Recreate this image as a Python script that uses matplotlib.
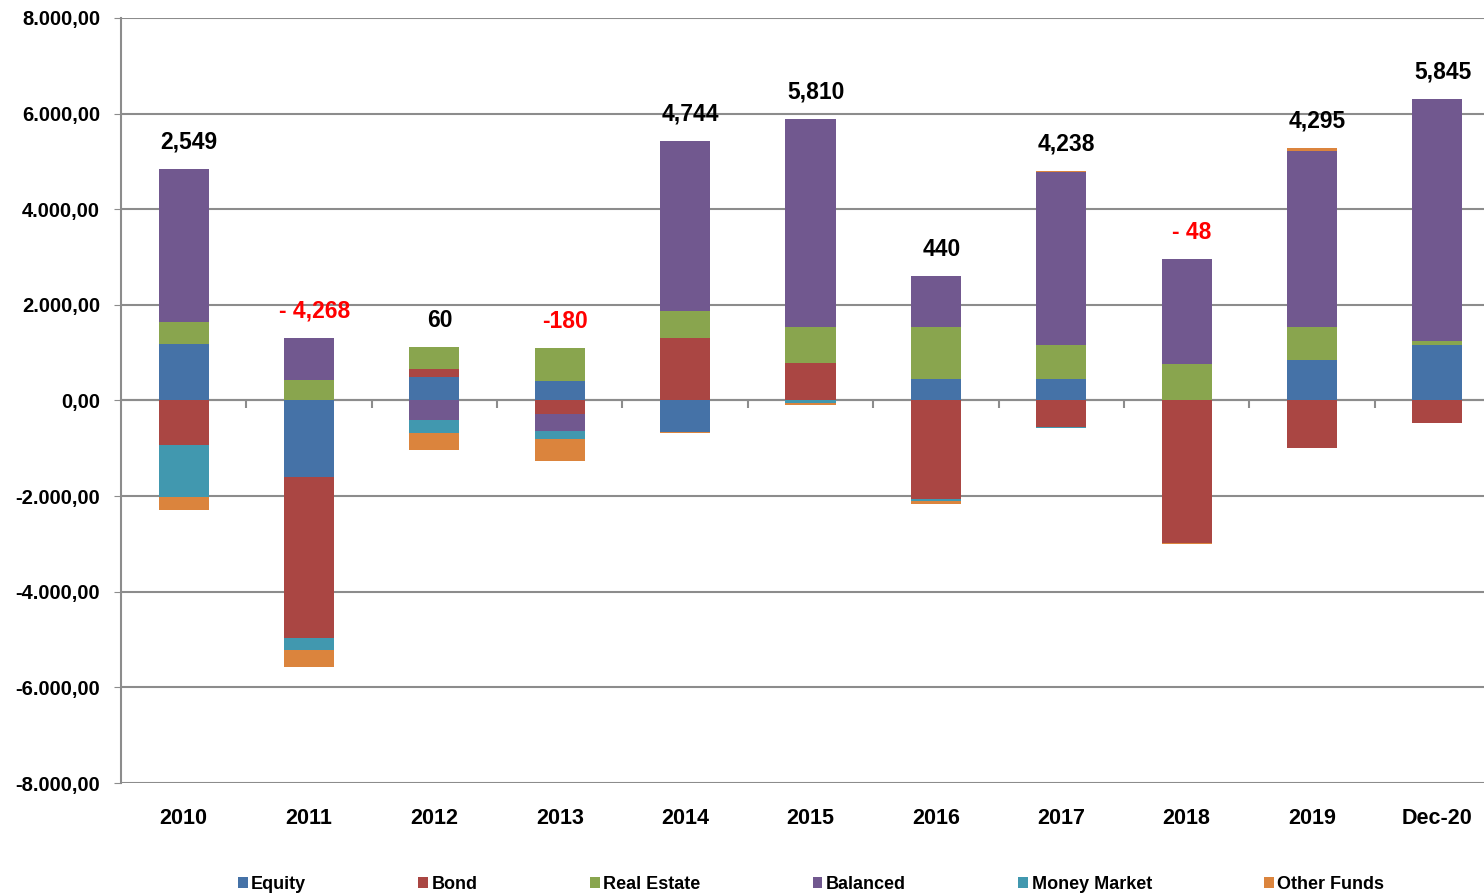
import matplotlib.pyplot as plt
import numpy as np

years = ['2010', '2011', '2012', '2013', '2014', '2015', '2016', '2017', '2018', '2019', 'Dec-20']
series = ['Equity', 'Bond', 'Real Estate', 'Balanced', 'Money Market', 'Other Funds']
colors = ['#4572A7', '#AA4643', '#89A54E', '#71588F', '#4198AF', '#DB843D']

equity = [1185, -1604, 495, 418, -660, 0, 460, 446, 0, 857, 1171]
bond = [-941, -3370, 167, -279, 1299, 792, -2070, -564, -2990, -990, -467]
real_estate = [454, 432, 453, 676, 569, 736, 1080, 718, 753, 690, 70]
balanced = [3200, 879, -418, -356, 3560, 4370, 1059, 3617, 2209, 3666, 5073]
money_market = [-1081, -251, -258, -167, 0, -60, -35, -15, 0, 0, 0]
other_funds = [-258, -349, -363, -460, -15, -25, -55, 28, -20, 70, -10]

totals = ['2,549', '- 4,268', '60', '-180', '4,744', '5,810', '440', '4,238', '- 48', '4,295', '5,845']
total_neg = [False, True, False, True, False, False, False, False, True, False, False]

plt.rcParams['font.family'] = ['Liberation Sans', 'DejaVu Sans']
plt.rcParams['font.weight'] = 'bold'

fig = plt.figure(figsize=(14.84, 8.96), dpi=100)
ax = fig.add_axes([121/1484, 1-783/896, 1379/1484, 765/896])

x = np.arange(len(years))
data = [equity, bond, real_estate, balanced, money_market, other_funds]
pos_base = np.zeros(len(years))
neg_base = np.zeros(len(years))
for vals, name, c in zip(data, series, colors):
    v = np.array(vals, dtype=float)
    base = np.where(v >= 0, pos_base, neg_base)
    ax.bar(x, v, 0.4, bottom=base, color=c, label=name, zorder=3)
    pos_base += np.where(v >= 0, v, 0)
    neg_base += np.where(v < 0, v, 0)

for i in range(len(years)):
    ax.annotate(totals[i], (x[i], pos_base[i]), xytext=(4, 11), textcoords='offset points',
                ha='center', va='bottom', fontsize=16.5, fontweight='bold',
                color='red' if total_neg[i] else 'black')

ax.set_ylim(-8000, 8000)
ax.set_xlim(-0.5, len(years) - 0.5)
ax.set_yticks(np.arange(-8000, 8001, 2000))
ax.set_yticklabels([f'{v:,.2f}'.replace(',', 'X').replace('.', ',').replace('X', '.') for v in np.arange(-8000, 8001, 2000)],
                   fontsize=14.5, fontweight='bold')
ax.yaxis.grid(True, color='#8c8c8c', linewidth=1.5, zorder=1)
ax.tick_params(axis='y', length=5, color='#8c8c8c', pad=10)

ax.spines['top'].set_visible(False)
ax.spines['right'].set_visible(False)
ax.spines['left'].set_color('#8c8c8c')
ax.spines['left'].set_linewidth(1.5)
ax.spines['bottom'].set_position(('data', 0))
ax.spines['bottom'].set_color('#8c8c8c')
ax.spines['bottom'].set_linewidth(1.5)
ax.set_xticks(np.arange(0.5, len(years) - 0.5, 1))
ax.set_xticklabels([])
ax.tick_params(axis='x', length=6, color='#8c8c8c', width=1.5)

sec = ax.secondary_xaxis('bottom')
sec.set_xticks(x)
sec.set_xticklabels(years, fontsize=15.5, fontweight='bold')
sec.tick_params(length=0, pad=18)
sec.spines['bottom'].set_visible(False)

fig.legend(loc='center', bbox_to_anchor=(811/1484, 1-884/896), ncol=6, frameon=False,
           handlelength=0.55, handleheight=0.55, handletextpad=0.2, columnspacing=6.2,
           prop={'size': 13, 'weight': 'bold'})

fig.savefig('out.png', dpi=100)
